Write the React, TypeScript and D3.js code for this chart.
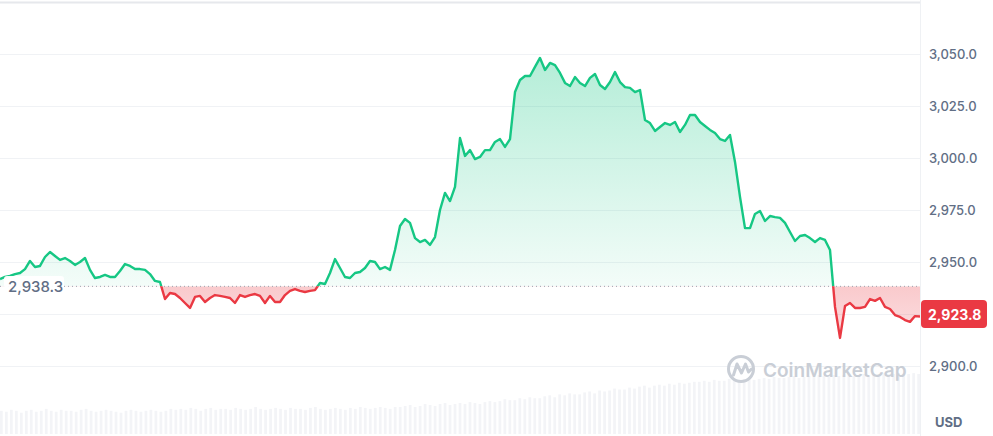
import React from "react";
import * as d3 from "d3";

const prices: number[] = [
  2941.8, 2942.8, 2943.3, 2944.2, 2944.7, 2946.6, 2950.5, 2947.6, 2948.1, 2952.4,
  2954.8, 2952.9, 2951.0, 2951.9, 2950.5, 2948.6, 2950.0, 2951.9, 2946.2, 2942.3,
  2942.8, 2943.8, 2942.8, 2942.8, 2945.7, 2949.0, 2948.1, 2946.6, 2946.6, 2946.2,
  2944.2, 2940.9, 2940.4, 2932.2, 2935.1, 2934.6, 2932.7, 2930.3, 2927.9, 2933.2,
  2933.7, 2930.8, 2932.7, 2934.1, 2933.7, 2933.2, 2932.7, 2930.3, 2934.1, 2933.2,
  2934.1, 2934.6, 2933.7, 2930.3, 2933.7, 2930.8, 2930.8, 2934.1, 2936.1, 2937.0,
  2936.1, 2935.6, 2936.1, 2936.5, 2939.9, 2939.4, 2944.7, 2951.4, 2947.1, 2942.8,
  2942.3, 2944.7, 2945.2, 2947.1, 2950.5, 2950.0, 2946.6, 2947.6, 2946.2, 2955.8,
  2967.3, 2970.7, 2968.8, 2961.5, 2959.6, 2960.6, 2958.2, 2962.0, 2975.0, 2983.2,
  2979.3, 2986.1, 3009.6, 3001.0, 3003.8, 2999.5, 3000.5, 3003.8, 3003.8, 3007.7,
  3009.1, 3005.3, 3009.1, 3031.7, 3037.5, 3039.4, 3039.4, 3043.8, 3048.1, 3042.3,
  3045.7, 3044.7, 3040.9, 3036.1, 3034.6, 3038.9, 3036.1, 3034.6, 3038.5, 3040.4,
  3035.1, 3033.2, 3036.5, 3041.3, 3036.5, 3034.1, 3033.7, 3031.7, 3032.7, 3018.3,
  3016.8, 3013.0, 3014.9, 3016.8, 3015.9, 3017.3, 3012.5, 3015.9, 3020.7, 3020.7,
  3017.3, 3015.4, 3013.5, 3012.0, 3009.1, 3008.2, 3011.1, 2998.1, 2981.3, 2966.3,
  2966.3, 2973.1, 2974.5, 2969.7, 2972.1, 2971.6, 2971.2, 2968.8, 2964.4, 2960.1,
  2962.5, 2963.0, 2961.5, 2959.6, 2961.5, 2960.6, 2955.8, 2928.4, 2913.5, 2928.8,
  2930.3, 2927.9, 2927.9, 2928.4, 2932.2, 2931.3, 2932.7, 2928.4, 2927.4, 2924.5,
  2923.6, 2922.1, 2921.2, 2924.0, 2923.8,
];

const volumes: number[] = [
  24, 23, 25, 24, 22, 24, 25, 23, 24, 26, 24, 23, 25, 24, 24, 23, 25, 26, 24, 23,
  24, 25, 24, 23, 22, 24, 25, 24, 23, 24, 25, 24, 23, 24, 26, 25,
  26, 25, 27, 26, 24, 26, 27, 25, 26, 26, 25, 27, 26, 25, 26, 28, 26, 25, 26, 27,
  26, 25, 27, 26, 26, 25, 27, 28, 26, 25, 26, 27, 26, 25, 27, 26, 28, 27, 26, 27,
  28, 27, 26, 28,
  28, 29, 30, 28, 29, 31, 30, 29, 31, 32, 30, 31, 32, 31, 33, 32, 31, 33, 34, 33,
  34, 36, 35, 35, 37, 36, 38, 37, 37, 39, 40, 38, 41, 40, 42, 41, 41, 43, 44, 42,
  45, 44, 45, 47, 46, 46, 48, 47, 49, 50, 48, 50, 51, 50, 52, 51, 53, 52, 53, 54,
  54, 55, 54, 56, 55, 55, 57, 56, 56, 57, 58, 56, 57, 58, 57, 59, 58, 58, 59, 60,
  58, 59, 60, 59, 61, 60, 59, 61, 60, 61, 62, 60, 61, 62, 61, 62, 61, 63, 62, 62,
  63, 61, 62, 63, 62,
];

const openPrice = 2938.3;
const lastPrice = 2923.8;
const tickValues = [3050, 3025, 3000, 2975, 2950, 2900];
const gridValues = [3075, 3050, 3025, 3000, 2975, 2950, 2925, 2900];
const currency = "USD";
const brand = "CoinMarketCap";

const W = 993;
const H = 436;
const PLOT_R = 920;
const GREEN = "#16c784";
const RED = "#ea3943";
const LABEL = "#616e85";
const FONT = "Inter, 'Noto Sans', sans-serif";

const fmt = d3.format(",.1f");

export default function App() {
  const x = d3.scaleLinear().domain([0, prices.length - 1]).range([0, PLOT_R]);
  const y = d3.scaleLinear().domain([2900, 3050]).range([366, 54]);
  const yv = d3.scaleLinear().domain([0, 60]).range([434, 376]);
  const xb = d3.scaleBand<number>().domain(d3.range(volumes.length)).range([0, PLOT_R]).paddingInner(0.45);
  const yb = y(openPrice);

  const line = d3.line<number>().x((_, i) => x(i)).y((d) => y(d));
  const area = d3.area<number>().x((_, i) => x(i)).y0(yb).y1((d) => y(d));
  const linePath = line(prices) || "";
  const areaPath = area(prices) || "";
  const yTop = y(d3.max(prices) as number);
  const yBot = y(d3.min(prices) as number);

  return (
    <svg
      width={W}
      height={H}
      style={{ position: "absolute", left: 0, top: 0, background: "#fff" }}
      fontFamily={FONT}
    >
      <defs>
        <clipPath id="above">
          <rect x={0} y={0} width={PLOT_R} height={yb} />
        </clipPath>
        <clipPath id="below">
          <rect x={0} y={yb} width={PLOT_R} height={H - yb} />
        </clipPath>
        <linearGradient id="gGreen" gradientUnits="userSpaceOnUse" x1={0} x2={0} y1={yTop} y2={yb}>
          <stop offset="0%" stopColor={GREEN} stopOpacity={0.32} />
          <stop offset="100%" stopColor={GREEN} stopOpacity={0.05} />
        </linearGradient>
        <linearGradient id="gRed" gradientUnits="userSpaceOnUse" x1={0} x2={0} y1={yb} y2={yBot}>
          <stop offset="0%" stopColor={RED} stopOpacity={0.27} />
          <stop offset="100%" stopColor={RED} stopOpacity={0.16} />
        </linearGradient>
      </defs>

      {/* gridlines */}
      {gridValues.map((v) => (
        <line
          key={v}
          x1={0}
          x2={PLOT_R}
          y1={Math.round(y(v)) + 0.5}
          y2={Math.round(y(v)) + 0.5}
          stroke={v === 3075 ? "#e6e8ec" : "#f0f2f5"}
          strokeWidth={v === 3075 ? 2 : 1}
        />
      ))}

      {/* volume bars */}
      {volumes.map((v, i) => (
        <rect key={i} x={xb(i)} y={yv(v)} width={xb.bandwidth()} height={yv(0) - yv(v)} fill="#f3f4f7" />
      ))}

      {/* watermark */}
      <g stroke="#c9ced6" strokeWidth={3} fill="none" strokeLinecap="round" strokeLinejoin="round">
        <circle cx={741} cy={369} r={12.5} />
        <path d="M733.5,375 L737,364 L741.5,373 L745.5,364 L748.5,372 L751.5,369" />
      </g>
      <text x={763} y={377} fontSize={19} fontWeight={600} fill="#c9ced6">
        {brand}
      </text>

      {/* areas */}
      <path d={areaPath} fill="url(#gGreen)" clipPath="url(#above)" />
      <path d={areaPath} fill="url(#gRed)" clipPath="url(#below)" />

      {/* baseline */}
      <line
        x1={0}
        x2={PLOT_R}
        y1={yb}
        y2={yb}
        stroke="#9aa1ad"
        strokeWidth={1}
        strokeDasharray="1 3"
      />

      {/* lines */}
      <path d={linePath} fill="none" stroke={GREEN} strokeWidth={2.4} strokeLinejoin="round" clipPath="url(#above)" />
      <path d={linePath} fill="none" stroke={RED} strokeWidth={2.4} strokeLinejoin="round" clipPath="url(#below)" />

      {/* open price label */}
      <rect x={4} y={276} width={60} height={21} rx={3} fill="#fff" fillOpacity={0.95} />
      <text x={8} y={286.5} dominantBaseline="central" fontSize={15} fontWeight={500} fill={LABEL}>
        {fmt(openPrice)}
      </text>

      {/* right axis */}
      <line x1={PLOT_R + 0.5} x2={PLOT_R + 0.5} y1={0} y2={H} stroke="#eff1f4" />
      {tickValues.map((v) => (
        <text key={v} x={929} y={y(v)} dominantBaseline="central" fontSize={13} fontWeight={500} fill={LABEL}>
          {fmt(v)}
        </text>
      ))}
      <text x={935} y={422} dominantBaseline="central" fontSize={13} fontWeight={700} fill={LABEL}>
        {currency}
      </text>

      {/* last price badge */}
      <rect x={921} y={300} width={66} height={28} rx={4} fill={RED} />
      <text x={928} y={314.5} dominantBaseline="central" fontSize={14} fontWeight={700} fill="#fff">
        {fmt(lastPrice)}
      </text>
    </svg>
  );
}
